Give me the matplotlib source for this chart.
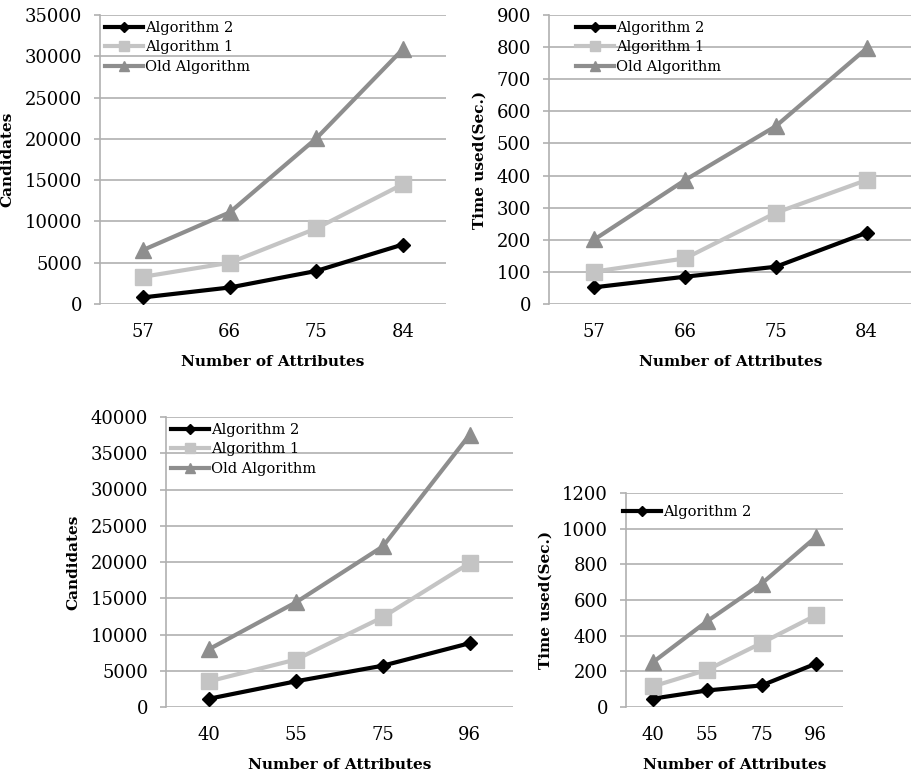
import matplotlib
matplotlib.use("Agg")
import matplotlib.pyplot as plt

plt.rcParams['font.family'] = ['DejaVu Serif']

# top row: 57..84 attributes
attrs_top = ["57", "66", "75", "84"]
cand_alg2_top = [800, 2000, 4000, 7200]
cand_alg1_top = [3300, 5000, 9150, 14500]
cand_old_top = [6550, 11100, 20050, 30850]

time_alg2_top = [52, 85, 116, 222]
time_alg1_top = [101, 142, 284, 386]
time_old_top = [201, 386, 554, 796]

# bottom row: 40..96 attributes
attrs_bot = ["40", "55", "75", "96"]
cand_alg2_bot = [1150, 3550, 5700, 8800]
cand_alg1_bot = [3550, 6550, 12400, 19850]
cand_old_bot = [8000, 14450, 22150, 37550]

time_alg2_bot = [47, 93, 121, 243]
time_alg1_bot = [116, 209, 359, 514]
time_old_bot = [252, 482, 692, 953]

labels = ["Algorithm 2", "Algorithm 1", "Old Algorithm"]

W, H = 912, 773
fig = plt.figure(figsize=(W / 100, H / 100), dpi=100)

GRID = '#b0b0b0'
STYLES = [
    dict(color='black', marker='D', markersize=7.5, linewidth=3.0),
    dict(color='#c4c4c4', marker='s', markersize=11, linewidth=3.0),
    dict(color='#8e8e8e', marker='^', markersize=11, linewidth=3.0),
]


def make_ax(left, top, right, bottom):
    # pixel box -> figure fraction
    return fig.add_axes([left / W, 1 - bottom / H, (right - left) / W, (bottom - top) / H])


def panel(ax, cats, series, ymax, ystep, ylabel, n_legend=3, leg_x=0.01, leg_y=0.985):
    x = range(len(cats))
    lines = []
    for vals, st in zip(series, STYLES):
        ln, = ax.plot(x, vals, **st, clip_on=False, zorder=3)
        lines.append(ln)
    ax.set_xlim(-0.5, len(cats) - 0.5)
    ax.set_ylim(0, ymax)
    ax.set_yticks(range(0, ymax + 1, ystep))
    ax.set_xticks(list(x))
    ax.set_xticklabels(cats)
    ax.yaxis.grid(True, color=GRID, linewidth=1.2)
    ax.set_axisbelow(True)
    for s in ['top', 'right', 'bottom']:
        ax.spines[s].set_visible(False)
    ax.spines['left'].set_color(GRID)
    ax.spines['left'].set_linewidth(1.2)
    ax.tick_params(axis='y', length=4, width=1.2, color=GRID, labelsize=13, pad=9)
    ax.tick_params(axis='x', length=0, labelsize=13, pad=14)
    ax.set_xlabel("Number of Attributes", fontweight='bold', fontsize=11, labelpad=10)
    ax.set_ylabel(ylabel, fontweight='bold', fontsize=11, labelpad=7)
    ax.legend(lines[:n_legend], labels[:n_legend], loc='upper left',
              bbox_to_anchor=(leg_x, leg_y), frameon=False, fontsize=10.5,
              handlelength=2.6, handletextpad=0.15, labelspacing=0.38,
              borderaxespad=0.0, borderpad=0.1, markerscale=0.7)


ax1 = make_ax(100, 15, 446, 304)
panel(ax1, attrs_top, [cand_alg2_top, cand_alg1_top, cand_old_top], 35000, 5000, "Candidates")

ax2 = make_ax(549, 15, 912, 304)
panel(ax2, attrs_top, [time_alg2_top, time_alg1_top, time_old_top], 900, 100, "Time used(Sec.)",
      leg_x=0.07)

ax3 = make_ax(166, 417, 513, 707)
panel(ax3, attrs_bot, [cand_alg2_bot, cand_alg1_bot, cand_old_bot], 40000, 5000, "Candidates")

ax4 = make_ax(626, 493, 843, 707)
panel(ax4, attrs_bot, [time_alg2_bot, time_alg1_bot, time_old_bot], 1200, 200, "Time used(Sec.)",
      n_legend=1, leg_x=-0.02, leg_y=0.95)

fig.savefig("out.png", dpi=100)
